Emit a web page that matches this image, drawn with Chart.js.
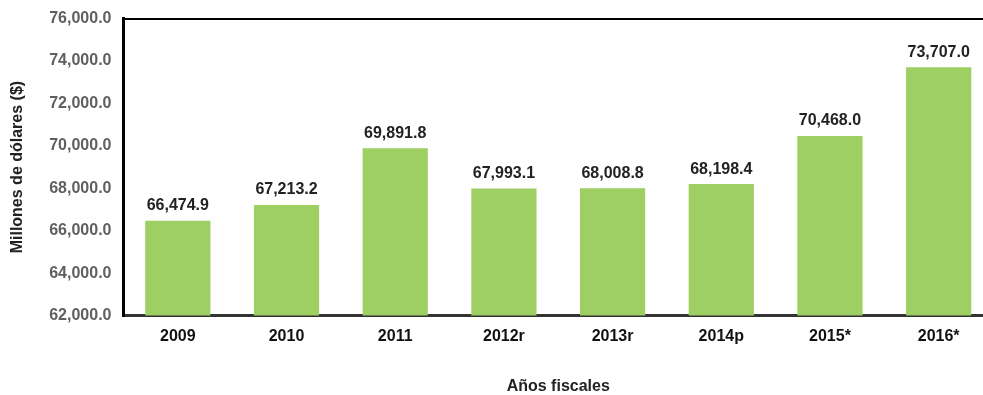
<!DOCTYPE html>
<html>
<head>
<meta charset="utf-8">
<script src="https://cdn.jsdelivr.net/npm/chart.js@4.4.1/dist/chart.umd.min.js"></script>
<style>
  html, body { margin: 0; padding: 0; background: #fff; overflow: hidden; }
  #wrap { position: relative; width: 1000px; height: 407px; margin-top: -3px; }
</style>
</head>
<body>
<div id="wrap"><canvas id="chart"></canvas></div>
<script>
const years = ["2009", "2010", "2011", "2012r", "2013r", "2014p", "2015*", "2016*"];
const amounts = [66474.9, 67213.2, 69891.8, 67993.1, 68008.8, 68198.4, 70468.0, 73707.0];

const FONT = "'Liberation Sans', Arial, sans-serif";

const fmt = (v) => v.toLocaleString("en-US", { minimumFractionDigits: 1, maximumFractionDigits: 1 });

// value labels above each bar
const barLabels = {
    id: "barLabels",
    afterDatasetsDraw(chart) {
        const { ctx } = chart;
        const meta = chart.getDatasetMeta(0);
        ctx.save();
        ctx.font = "bold 16px " + FONT;
        ctx.fillStyle = "#222";
        ctx.textAlign = "center";
        ctx.textBaseline = "bottom";
        meta.data.forEach((bar, i) => {
            ctx.fillText(fmt(amounts[i]), bar.x, bar.y - 7);
        });
        ctx.restore();
    }
};

new Chart(document.getElementById("chart"), {
    type: "bar",
    data: {
        labels: years,
        datasets: [{
            data: amounts,
            backgroundColor: "#9dcf63",
            categoryPercentage: 0.6,
            barPercentage: 1
        }]
    },
    options: {
        responsive: true,
        maintainAspectRatio: false,
        animation: false,
        layout: { padding: { top: 2, right: 7, left: 4, bottom: 4 } },
        plugins: {
            legend: { display: false },
            tooltip: { enabled: false }
        },
        scales: {
            x: {
                grid: { display: false, drawTicks: false },
                border: { color: "#333", width: 3 },
                ticks: {
                    color: "#111",
                    padding: 11,
                    font: { family: FONT, size: 16, weight: "bold" }
                },
                title: {
                    display: true,
                    text: "Años fiscales",
                    color: "#222",
                    padding: { top: 20 },
                    font: { family: FONT, size: 16, weight: "bold" }
                }
            },
            y: {
                min: 62000,
                max: 76000,
                grid: {
                    drawTicks: false,
                    lineWidth: 2,
                    color: (c) => c.tick && c.tick.value === 76000 ? "#000" : "transparent"
                },
                border: { color: "#000", width: 3 },
                ticks: {
                    stepSize: 2000,
                    color: "#5f5f5f",
                    padding: 12,
                    font: { family: FONT, size: 16, weight: "bold" },
                    callback: fmt
                },
                title: {
                    display: true,
                    text: "Millones de dólares ($)",
                    color: "#222",
                    padding: { bottom: 10 },
                    font: { family: FONT, size: 16, weight: "bold" }
                }
            }
        }
    },
    plugins: [barLabels]
});
</script>
</body>
</html>
